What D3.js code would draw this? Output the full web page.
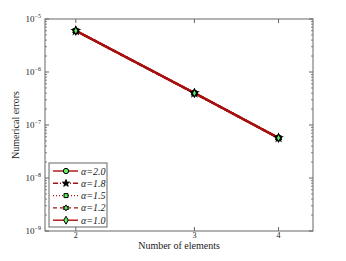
<!DOCTYPE html>
<html>
<head>
<meta charset="utf-8">
<script src="https://cdn.jsdelivr.net/npm/d3@7"></script>
<style>
  body { margin: 0; background: #fff; }
  svg text { font-family: "Liberation Serif", "Times New Roman", serif; fill: #222; }
</style>
</head>
<body>
<div id="chart"></div>
<script>
// Data
const elements = [2, 3, 4];
const alphas = ["2.0", "1.8", "1.5", "1.2", "1.0"];
const err20 = [6.0e-6, 4.0e-7, 5.7e-8];
const err18 = [6.0e-6, 4.0e-7, 5.7e-8];
const err15 = [6.0e-6, 4.0e-7, 5.7e-8];
const err12 = [6.0e-6, 4.0e-7, 5.7e-8];
const err10 = [6.0e-6, 4.0e-7, 5.7e-8];
const xTicks = [2, 3, 4];
const yExps = [-5, -6, -7, -8, -9];

const series = [
  { name: alphas[0], values: err20, dash: null, marker: "circle" },
  { name: alphas[1], values: err18, dash: "5,2,1,2", marker: "star" },
  { name: alphas[2], values: err15, dash: "1,2", marker: "square" },
  { name: alphas[3], values: err12, dash: "4,3", marker: "hexagram" },
  { name: alphas[4], values: err10, dash: null, marker: "diamond" },
];

const W = 346, H = 261;
const plot = { left: 45, right: 313, top: 19, bottom: 231 };
const lineColor = "#a80f0f";
const green = "#5ef05e";
const frame = "#666";

const svg = d3.select("#chart").append("svg")
  .attr("width", W).attr("height", H);

const x = d3.scaleLog().domain([1.8, 4.5]).range([plot.left, plot.right]);
const y = d3.scaleLog().domain([1e-9, 1e-5]).range([plot.bottom, plot.top]);

// frame
svg.append("rect")
  .attr("x", plot.left).attr("y", plot.top)
  .attr("width", plot.right - plot.left).attr("height", plot.bottom - plot.top)
  .attr("fill", "none").attr("stroke", frame).attr("stroke-width", 1);

// x ticks (inward, top and bottom)
xTicks.forEach(t => {
  const px = x(t);
  svg.append("line").attr("x1", px).attr("x2", px)
    .attr("y1", plot.bottom).attr("y2", plot.bottom - 4).attr("stroke", frame);
  svg.append("line").attr("x1", px).attr("x2", px)
    .attr("y1", plot.top).attr("y2", plot.top + 4).attr("stroke", frame);
  svg.append("text").attr("x", px).attr("y", plot.bottom + 7)
    .attr("text-anchor", "middle").style("font-size", "8px").text(t);
});

// y ticks: majors and log minors, on both sides
const minor = [];
for (let e = -9; e < -5; e++) {
  for (let m = 2; m <= 9; m++) minor.push(m * Math.pow(10, e));
}
minor.forEach(v => {
  const py = y(v);
  svg.append("line").attr("x1", plot.left).attr("x2", plot.left + 2)
    .attr("y1", py).attr("y2", py).attr("stroke", frame).attr("stroke-width", 0.8);
  svg.append("line").attr("x1", plot.right).attr("x2", plot.right - 2)
    .attr("y1", py).attr("y2", py).attr("stroke", frame).attr("stroke-width", 0.8);
});
yExps.forEach(e => {
  const py = y(Math.pow(10, e));
  svg.append("line").attr("x1", plot.left).attr("x2", plot.left + 4)
    .attr("y1", py).attr("y2", py).attr("stroke", frame);
  svg.append("line").attr("x1", plot.right).attr("x2", plot.right - 4)
    .attr("y1", py).attr("y2", py).attr("stroke", frame);
  const t = svg.append("text").attr("x", plot.left - 4).attr("y", py + 3)
    .attr("text-anchor", "end").style("font-size", "9px");
  t.append("tspan").text("10");
  t.append("tspan").attr("dy", -4).style("font-size", "6px").text("\u2212" + (-e));
});

// axis labels
svg.append("text").attr("x", (plot.left + plot.right) / 2).attr("y", 249)
  .attr("text-anchor", "middle").style("font-size", "10px").text("Number of elements");
svg.append("text")
  .attr("transform", `translate(19,${(plot.top + plot.bottom) / 2}) rotate(-90)`)
  .attr("text-anchor", "middle").style("font-size", "10px").text("Numerical errors");

// marker shapes
function hexagram(r) {
  const pts = [];
  for (let i = 0; i < 12; i++) {
    const a = -Math.PI / 2 + i * Math.PI / 6;
    const rr = i % 2 === 0 ? r : r * 0.55;
    pts.push([rr * Math.cos(a), rr * Math.sin(a)]);
  }
  return d3.line()(pts) + "Z";
}
function markerPath(kind) {
  if (kind === "circle") return d3.symbol(d3.symbolCircle, 22)();
  if (kind === "star") return d3.symbol(d3.symbolStar, 16)();
  if (kind === "square") return d3.symbol(d3.symbolSquare, 16)();
  if (kind === "diamond") return d3.symbol(d3.symbolDiamond, 18)();
  return hexagram(3.0);
}
function markerFill(kind) { return kind === "star" ? "#000" : green; }

// lines
const line = d3.line().x((d, i) => x(elements[i])).y(d => y(d));
const g = svg.append("g");
series.forEach(s => {
  g.append("path").datum(s.values)
    .attr("fill", "none").attr("stroke", lineColor).attr("stroke-width", 2.2)
    .attr("stroke-dasharray", s.dash).attr("d", line);
});
series.forEach(s => {
  s.values.forEach((v, i) => {
    g.append("path").attr("d", markerPath(s.marker))
      .attr("transform", `translate(${x(elements[i])},${y(v)})`)
      .attr("fill", markerFill(s.marker)).attr("stroke", "#000").attr("stroke-width", 1.2);
  });
});

// legend
const lg = svg.append("g").attr("transform", "translate(49,163)");
lg.append("rect").attr("width", 58).attr("height", 64)
  .attr("fill", "#fff").attr("stroke", frame).attr("stroke-width", 1);
series.forEach((s, i) => {
  const ry = 8 + i * 12.3;
  lg.append("line").attr("x1", 4).attr("x2", 29).attr("y1", ry).attr("y2", ry)
    .attr("stroke", lineColor).attr("stroke-width", 1.4)
    .attr("stroke-dasharray", s.dash);
  lg.append("path").attr("d", markerPath(s.marker))
    .attr("transform", `translate(17,${ry})`)
    .attr("fill", markerFill(s.marker)).attr("stroke", "#000").attr("stroke-width", 1);
  lg.append("text").attr("x", 32).attr("y", ry + 3.5)
    .style("font-size", "10px").style("font-style", "italic")
    .text("\u03b1=" + s.name);
});
</script>
</body>
</html>
